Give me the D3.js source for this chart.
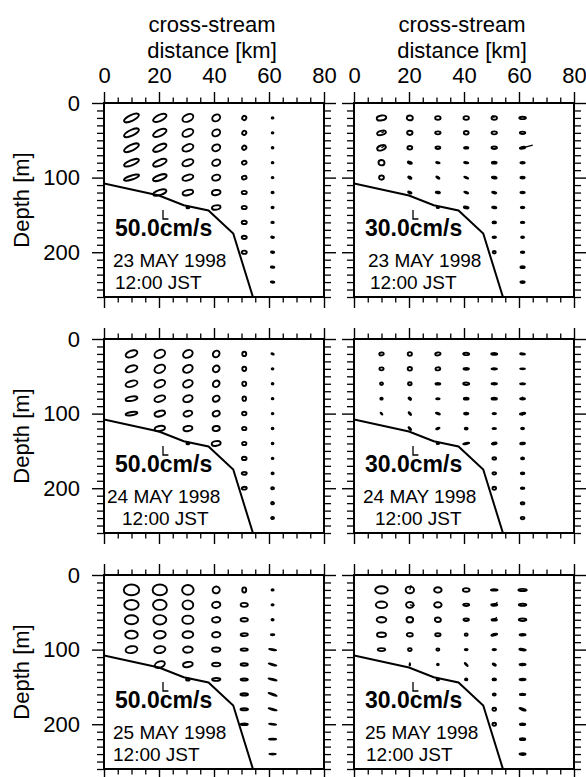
<!DOCTYPE html>
<html><head><meta charset="utf-8">
<script src="https://cdn.jsdelivr.net/npm/d3@7"></script>
<style>
html,body{margin:0;padding:0;background:#fff;}
svg{display:block;font-family:"Liberation Sans",Arial,Helvetica,sans-serif;}
</style></head><body>
<svg id="chart" width="586" height="777"></svg>
<script>
// Stations across the stream (km) and sampled depths (m)
const stations = [10, 20.3, 30.5, 40.8, 51, 61.3];
const depths = [20, 40, 60, 80, 100, 120, 140, 160, 180, 200, 220, 240];
const pointsPerStation = [5, 6, 7, 7, 10, 12];

const xTicksMajor = [0, 20, 40, 60, 80];
const depthTicksMajor = [0, 100, 200];

// Bottom profile along the section (km, m)
const bottomKm = [0, 20, 29, 38, 47, 55, 57];
const bottomDepth = [108, 124, 137, 144, 175, 270, 290];

const dates = ["23 MAY 1998", "24 MAY 1998", "25 MAY 1998"];
const timeLabel = "12:00 JST";
const speedScales = [50, 30]; // cm/s, left and right columns

// Ellipse parameters per station (top to bottom):
// semi-major and semi-minor axes in cm/s, orientation in degrees counter-clockwise from the x axis
const majL23 = [[45,45,45,44,44],[40,40,40,40,40,38],[32,32,32,32,31,30,8],[23,23,23,23,23,24,24],[12,12,12,13,13,14,14,14,14,14],[5,5,5,5,5,6,6,7,8,9,10,10]];
const minL23 = [[16,16,16,14,11],[17,17,16,16,14,14],[19,19,18,17,15,14,5],[18,18,18,17,16,14,12],[11,11,11,10,10,9,9,9,9,9],[4,4,4,4,4,4,4,4,4,4,4,4]];
const angL23 = [[25,25,25,22,18],[25,25,25,22,20,18],[25,25,22,20,18,15,0],[30,30,25,20,15,10,10],[60,60,45,20,10,0,0,0,0,0],[0,0,0,0,0,0,0,0,-5,-5,-5,-5]];

const majR23 = [[16,15,15,10,8],[10,9,8,7,6,6],[9,9,8,6,6,7,4],[9,8,7,7,7,7,8],[9,9,9,8,8,7,7,6,6,5],[11,9,9,7,7,7,6,6,5,6,7,7]];
const minR23 = [[8,7,8,9,7],[8,7,6,3,3,2.5],[6,5,4,2,2,2.5,2],[6,6,3,2,2,2,3],[6,5,4,3,3,2.5,2.5,3,2.5,4],[4,4,3,2.5,3,2.5,2.5,2.5,2.5,2.5,3,3]];
const angR23 = [[10,15,20,0,0],[0,0,0,-20,-30,-20],[0,0,0,-10,-30,-10,0],[0,0,0,-10,-20,-20,-10],[0,0,0,0,-10,-15,-10,0,0,0],[0,0,10,0,0,0,0,0,0,0,0,0]];

const majL24 = [[34,34,34,33,33],[31,31,31,31,30,29],[28,28,28,27,25,25,8],[20,20,20,20,20,20,25],[12,12,12,12,12,12,12,13,14,14],[7,5,5,5,5,5,5,5,6,8,8,8]];
const minL24 = [[18,17,16,12,9],[21,21,19,16,15,14],[20,20,19,18,15,14,5],[17,17,17,16,15,14,13],[11,11,11,10,10,9,9,9,8,8],[3,4,4,4,4,4,4,4,5,6,6,6]];
const angL24 = [[20,20,15,10,10],[25,25,22,18,15,10],[25,25,25,20,15,10,0],[45,45,45,30,20,10,10],[90,90,90,90,0,0,0,0,0,0],[-20,0,0,0,0,0,0,0,0,0,0,0]];

const majR24 = [[7.5,7,5,4,4],[7,7,6,5,6,6],[9,8,8,6,7,6,4],[10,9,10,8,7,5,10],[10,9,9,9,6,6,8,6,6,6],[8,8,8,8,9,5,8,5,6,6,6,6]];
const minR24 = [[5,5,4,3,1.5],[6,6,5,3,2,2],[5,5,3,2,2,2,2],[4,3,4,3,3,3,2],[3,2.5,2.5,3,2,2,3,4,4,5],[2,1.5,2,2.5,2.5,2.5,2.5,3,3,2.5,3.5,4]];
const angR24 = [[10,0,0,0,-45],[0,0,0,-40,-50,-45],[10,5,0,0,-15,20,0],[0,0,0,0,0,0,10],[0,0,0,0,0,0,10,0,0,0],[-5,0,0,0,10,0,10,0,0,0,0,0]];

const majL25 = [[43,40,37,35,33],[40,38,36,33,31,29],[32,30,31,30,27,27,10],[20,23,23,23,23,23,23],[14,20,20,20,20,20,20,21,21,20],[6,6,6,10,20,22,23,24,23,20,20,18]];
const minL25 = [[30,27,25,22,19],[30,28,26,21,19,17],[27,25,23,19,17,14,6],[19,17,15,15,12,10,8],[11,11,10,8,7,7,6,6,6,5],[4,4,4,3,2,2.5,2.5,2.5,2.5,2,2,2]];
const angL25 = [[0,0,0,0,10],[0,0,0,5,10,20],[0,0,0,5,5,10,0],[30,10,5,5,0,0,0],[90,0,0,0,0,0,0,0,0,0],[0,0,0,0,-10,-15,-15,-20,-15,-5,0,0]];

const majR25 = [[21,19,16,15,12.5],[14,12.5,11,10,6,3],[12.5,12.5,10,9,5,3,4],[11,10,9,5,5,7,4],[11,10,9,10,6,6,6,5,6,6],[14,12.5,12.5,10,11,10,10,9,11,9,9,10]];
const minR25 = [[12,11,9,7.5,5],[11,10,9,6,5,1],[9,9,7.5,5,4,2.5,3],[6,4,4,4,2.5,1.5,3],[2.5,3,3,2.5,2.5,2.5,3,3.5,5,5],[3.5,3.5,4,2.5,2.5,2.5,2.5,2,2.5,3,3,3]];
const angR25 = [[0,0,0,0,0],[0,0,0,0,0,90],[0,0,0,0,0,0,0],[0,0,0,0,0,-45,0],[0,0,0,15,0,-30,0,0,0,0],[0,0,0,0,-10,0,0,0,-20,0,0,0]];

// Instantaneous current sticks at the plotted time: [station km, depth m, direction deg, speed cm/s]
const sticksR23 = [[10,40,25,9],[10,60,35,14],[51,20,125,10],[61.3,60,15,35]];
const sticksR24 = [[51,40,150,6],[61.3,80,90,7],[61.3,100,-100,7]];
const sticksR25 = [[20.3,20,75,16],[20.3,40,-10,16],[20.3,120,90,8],[51,40,40,14],[51,60,45,12],[30.5,140,90,6]];

// ---- layout ----
const colX = [[104, 324], [354, 574]];
const rowY = [[103, 297], [339, 533], [575, 769]];
const maxDepth = 260;
const pxPerScale = 9; // length of the scale arm in pixels
const fontSize = 22;

const panels = [
  {row:0, col:0, maj:majL23, min:minL23, ang:angL23, sticks:[], dateDx:9, timeDx:11},
  {row:0, col:1, maj:majR23, min:minR23, ang:angR23, sticks:sticksR23, dateDx:14, timeDx:16},
  {row:1, col:0, maj:majL24, min:minL24, ang:angL24, sticks:[], dateDx:3, timeDx:18},
  {row:1, col:1, maj:majR24, min:minR24, ang:angR24, sticks:sticksR24, dateDx:9, timeDx:21},
  {row:2, col:0, maj:majL25, min:minL25, ang:angL25, sticks:[], dateDx:9, timeDx:9},
  {row:2, col:1, maj:majR25, min:minR25, ang:angR25, sticks:sticksR25, dateDx:11, timeDx:12}
];
const textOffsets = {scale: 133, date: 164, time: 186};

const svg = d3.select("#chart");

// column titles
[0, 1].forEach(c => {
  const cx = (colX[c][0] + colX[c][1]) / 2 - 2;
  svg.append("text").attr("x", cx).attr("y", 32).attr("text-anchor", "middle")
    .attr("font-size", fontSize).text("cross-stream");
  svg.append("text").attr("x", cx).attr("y", 58).attr("text-anchor", "middle")
    .attr("font-size", fontSize).text("distance [km]");
});

const xMinor = d3.range(0, 81, 5).filter(v => v % 20 !== 0);
const yMinor = d3.range(10, maxDepth + 1, 10).filter(v => v % 100 !== 0);

panels.forEach(p => {
  const [x0, x1] = colX[p.col];
  const [y0, y1] = rowY[p.row];
  const x = d3.scaleLinear().domain([0, 80]).range([x0, x1]);
  const y = d3.scaleLinear().domain([0, maxDepth]).range([y0, y1]);
  const k = pxPerScale / speedScales[p.col];
  const g = svg.append("g");
  const clipId = `clip-${p.row}-${p.col}`;
  g.append("clipPath").attr("id", clipId).append("rect")
    .attr("x", x0).attr("y", y0).attr("width", x1 - x0).attr("height", y1 - y0);

  // axes: majors and minors, all ticks outward
  const axes = [
    {gen: d3.axisTop, pos: `translate(0,${y0})`, sc: x, maj: xTicksMajor, min: xMinor, label: p.row === 0},
    {gen: d3.axisBottom, pos: `translate(0,${y1})`, sc: x, maj: xTicksMajor, min: xMinor, label: false},
    {gen: d3.axisLeft, pos: `translate(${x0},0)`, sc: y, maj: depthTicksMajor, min: yMinor, label: p.col === 0},
    {gen: d3.axisRight, pos: `translate(${x1},0)`, sc: y, maj: depthTicksMajor, min: yMinor, label: false}
  ];
  axes.forEach(a => {
    const isX = a.sc === x;
    const majLen = isX ? 11 : 12;
    const minLen = isX ? 5.5 : 7;
    const gm = g.append("g").attr("transform", a.pos)
      .call(a.gen(a.sc).tickValues(a.maj).tickSize(majLen).tickSizeOuter(0)
        .tickPadding(isX ? 9 : 12).tickFormat(a.label ? d3.format("d") : ""));
    gm.select(".domain").remove();
    gm.selectAll(".tick line").attr("stroke", "#000").attr("stroke-width", 1.4);
    gm.selectAll(".tick text").attr("font-size", fontSize).attr("fill", "#000")
      .attr("font-family", "Liberation Sans, Arial, sans-serif");
    const gn = g.append("g").attr("transform", a.pos)
      .call(a.gen(a.sc).tickValues(a.min).tickSize(minLen).tickSizeOuter(0).tickFormat(""));
    gn.select(".domain").remove();
    gn.selectAll(".tick line").attr("stroke", "#000").attr("stroke-width", 1.3);
  });

  // frame
  g.append("rect").attr("x", x0).attr("y", y0).attr("width", x1 - x0).attr("height", y1 - y0)
    .attr("fill", "none").attr("stroke", "#000").attr("stroke-width", 2);

  // depth label
  if (p.col === 0) {
    svg.append("text").attr("transform", `translate(29,${(y0 + y1) / 2}) rotate(-90)`)
      .attr("text-anchor", "middle").attr("font-size", fontSize).text("Depth [m]");
  }

  // bottom profile
  const prof = bottomKm.map((v, i) => [v, bottomDepth[i]]);
  g.append("path").attr("clip-path", `url(#${clipId})`)
    .attr("d", d3.line().x(d => x(d[0])).y(d => y(d[1]))(prof))
    .attr("fill", "none").attr("stroke", "#000").attr("stroke-width", 2);

  // current ellipses
  const ell = [];
  stations.forEach((s, i) => {
    for (let j = 0; j < pointsPerStation[i]; j++) {
      ell.push({s, d: depths[j], a: p.maj[i][j], b: p.min[i][j], t: p.ang[i][j]});
    }
  });
  g.append("g").selectAll("ellipse").data(ell).join("ellipse")
    .attr("transform", d => `translate(${x(d.s)},${y(d.d)}) rotate(${-d.t})`)
    .attr("rx", d => Math.max(d.a * k, 0.3))
    .attr("ry", d => Math.max(d.b * k, 0.3))
    .attr("fill", "none").attr("stroke", "#000").attr("stroke-width", 1.9);

  // current sticks
  g.append("g").selectAll("line").data(p.sticks).join("line")
    .attr("x1", d => x(d[0])).attr("y1", d => y(d[1]))
    .attr("x2", d => x(d[0]) + d[3] * k * Math.cos(d[2] * Math.PI / 180))
    .attr("y2", d => y(d[1]) - d[3] * k * Math.sin(d[2] * Math.PI / 180))
    .attr("stroke", "#000").attr("stroke-width", 1.3);

  // speed scale and labels
  const cornerX = x0 + 59, cornerY = y0 + 116;
  const arm = speedScales[p.col] * k;
  g.append("path")
    .attr("d", `M${cornerX},${cornerY - arm}V${cornerY}H${cornerX + arm * 0.6}`)
    .attr("fill", "none").attr("stroke", "#000").attr("stroke-width", 1.3);
  g.append("text").attr("x", x0 + 11).attr("y", y0 + textOffsets.scale)
    .attr("font-size", 23).attr("font-weight", "bold")
    .text(`${speedScales[p.col].toFixed(1)}cm/s`);
  g.append("text").attr("x", x0 + p.dateDx).attr("y", y0 + textOffsets.date)
    .attr("font-size", 19).text(dates[p.row]);
  g.append("text").attr("x", x0 + p.timeDx).attr("y", y0 + textOffsets.time)
    .attr("font-size", 19).text(timeLabel);
});
</script>
</body></html>
